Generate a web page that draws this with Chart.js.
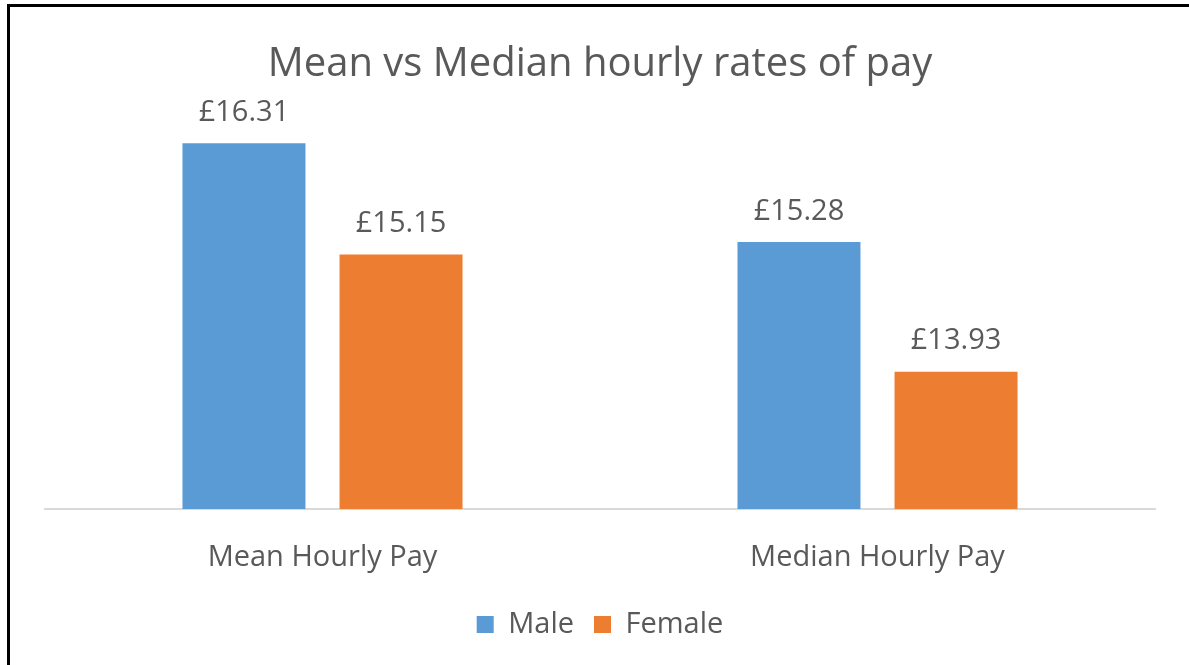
<!DOCTYPE html>
<html>
<head>
<meta charset="utf-8">
<script src="https://cdn.jsdelivr.net/npm/chart.js@4"></script>
<style>
  html, body { margin: 0; padding: 0; background: #fff; overflow: hidden; }
  #wrap { position: relative; width: 1189px; height: 665px; overflow: hidden; }
  #frame { position: absolute; left: 7px; top: 4px; width: 1200px; height: 700px;
           border: 3px solid #000; pointer-events: none; }
</style>
</head>
<body>
<div id="wrap">
  <canvas id="chart" width="1189" height="665"></canvas>
  <div id="frame"></div>
</div>
<script>
var categories = ['Mean Hourly Pay', 'Median Hourly Pay'];
var maleValues = [16.31, 15.28];
var femaleValues = [15.15, 13.93];

var textColor = '#595959';
var fontName = "'Open Sans', 'Noto Sans', sans-serif";

// draws the £ value above each bar
var valueLabels = {
  id: 'valueLabels',
  afterDatasetsDraw: function(chart) {
    var ctx = chart.ctx;
    ctx.save();
    ctx.fillStyle = textColor;
    ctx.font = '29px ' + fontName;
    ctx.textAlign = 'center';
    ctx.textBaseline = 'bottom';
    chart.data.datasets.forEach(function(ds, i) {
      chart.getDatasetMeta(i).data.forEach(function(bar, j) {
        ctx.fillText('£' + ds.data[j].toFixed(2), bar.x, bar.y - 16);
      });
    });
    ctx.restore();
  }
};

var Cnvs = document.getElementById('chart');
var barChart = new Chart(Cnvs, {
  type: 'bar',
  data: {
    labels: categories,
    datasets: [
      { label: 'Male', data: maleValues, backgroundColor: '#5b9bd5' },
      { label: 'Female', data: femaleValues, backgroundColor: '#ed7d31' }
    ]
  },
  options: {
    responsive: false,
    animation: false,
    layout: { padding: { left: 45, right: 34, top: 0, bottom: 16 } },
    datasets: { bar: { categoryPercentage: 0.566, barPercentage: 0.783 } },
    scales: {
      x: {
        grid: { display: false },
        border: { color: '#d9d9d9', width: 2 },
        ticks: { color: textColor, font: { family: fontName, size: 29 }, padding: 23 },
        afterFit: function(scale) { scale.height = 81; }
      },
      y: { display: false, min: 12.5, max: 16.5 }
    },
    plugins: {
      title: {
        display: true,
        text: 'Mean vs Median hourly rates of pay',
        color: textColor,
        font: { family: fontName, size: 40, weight: 'normal' },
        padding: { top: 41, bottom: 36 }
      },
      legend: {
        position: 'bottom',
        labels: {
          color: textColor,
          font: { family: fontName, size: 29 },
          boxWidth: 17,
          boxHeight: 17,
          padding: 20
        }
      },
      tooltip: { enabled: false }
    }
  },
  plugins: [valueLabels]
});
</script>
</body>
</html>
